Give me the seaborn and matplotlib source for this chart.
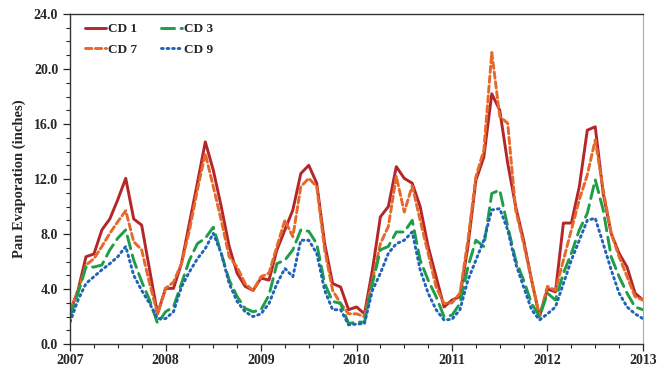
import numpy as np
import pandas as pd
import matplotlib
matplotlib.use("Agg")
import matplotlib.pyplot as plt
from matplotlib.ticker import MultipleLocator, FormatStrFormatter
import seaborn as sns

# monthly pan evaporation (inches), Jan 2007 .. Jan 2013
cd1 = [2.35, 3.9, 6.35, 6.55, 8.3, 9.1, 10.5, 12.05, 9.1, 8.65, 5.4, 2.2,
       4.05, 4.05, 5.85, 8.8, 11.7, 14.7, 12.65, 10.0, 7.1, 5.15, 4.2, 3.9,
       4.8, 4.65, 6.85, 8.3, 9.75, 12.4, 13.0, 11.7, 7.3, 4.4, 4.15, 2.5,
       2.7, 2.2, 5.4, 9.25, 10.0, 12.9, 12.05, 11.7, 10.0, 7.1, 4.9, 2.7,
       3.2, 3.45, 7.1, 11.9, 13.6, 18.2, 17.0, 13.15, 10.0, 7.55, 4.65, 2.0,
       4.0, 3.8, 8.8, 8.8, 11.45, 15.55, 15.8, 10.95, 8.05, 6.6, 5.6, 3.7,
       3.2]
cd7 = [2.5, 3.8, 5.75, 6.2, 7.1, 8.05, 8.9, 9.7, 7.45, 6.85, 4.4, 2.2,
       4.05, 4.5, 5.85, 8.25, 11.2, 13.85, 11.45, 9.0, 6.35, 5.6, 4.4, 3.9,
       4.9, 5.15, 7.1, 9.0, 7.8, 11.45, 12.05, 11.45, 6.85, 3.9, 2.95, 2.2,
       2.2, 2.0, 4.65, 7.3, 8.55, 12.2, 9.6, 11.5, 9.0, 6.6, 4.15, 2.95,
       3.0, 3.7, 7.55, 12.15, 14.1, 21.2, 16.55, 16.05, 9.75, 7.3, 4.65, 2.0,
       4.2, 3.9, 6.1, 8.3, 10.5, 12.3, 14.85, 11.2, 8.05, 6.35, 4.9, 3.45,
       3.2]
cd3 = [2.0, 3.7, 5.6, 5.6, 5.75, 6.85, 7.7, 8.3, 6.1, 4.55, 3.2, 1.5,
       2.35, 2.7, 4.4, 6.1, 7.3, 7.7, 8.5, 6.6, 4.65, 3.45, 2.6, 2.35,
       2.5, 3.55, 5.85, 6.1, 6.85, 8.3, 8.2, 7.3, 4.4, 3.1, 2.95, 1.5,
       1.6, 1.6, 4.4, 6.85, 7.1, 8.15, 8.15, 9.0, 6.1, 4.65, 3.45, 2.0,
       2.1, 2.95, 5.6, 7.55, 7.1, 10.95, 11.2, 8.55, 6.1, 4.65, 2.95, 2.0,
       3.7, 3.2, 5.15, 6.6, 8.3, 9.5, 11.95, 9.75, 6.35, 4.9, 3.7, 2.7,
       2.5]
cd9 = [1.6, 3.2, 4.4, 4.9, 5.4, 5.85, 6.35, 7.1, 5.0, 3.9, 2.95, 1.85,
       1.85, 2.35, 4.15, 5.25, 6.2, 6.95, 8.05, 6.6, 4.4, 3.1, 2.35, 2.0,
       2.2, 2.95, 4.4, 5.5, 4.9, 7.55, 7.55, 6.6, 3.9, 2.5, 2.5, 1.4,
       1.45, 1.5, 3.9, 5.15, 6.6, 7.3, 7.55, 8.15, 5.4, 3.7, 2.5, 1.75,
       1.8, 2.5, 4.65, 6.1, 7.55, 9.75, 9.85, 8.3, 5.85, 4.15, 2.5, 1.75,
       2.2, 2.7, 4.4, 6.1, 7.55, 9.0, 9.15, 7.3, 5.4, 3.7, 2.7, 2.2,
       1.85]

stations = ["CD 1", "CD 7", "CD 3", "CD 9"]
years = 2007 + np.arange(len(cd1)) / 12

df = pd.concat([
    pd.DataFrame({"year": years, "evap": vals, "station": name})
    for name, vals in zip(stations, [cd1, cd7, cd3, cd9])
])

colors = {"CD 1": "#B5262B", "CD 7": "#E4692A", "CD 3": "#1E9E48", "CD 9": "#2063B8"}
dashes = {"CD 1": "", "CD 7": (2.2, 1.2), "CD 3": (4.5, 2.2), "CD 9": (0.6, 1.3)}

sns.set_style("ticks")
plt.rcParams["font.family"] = ["Liberation Serif", "DejaVu Serif"]
plt.rcParams["font.weight"] = "bold"

fig = plt.figure(figsize=(6.67, 3.68), dpi=100)
ax = fig.add_axes([0.105, 0.065, 0.859, 0.897])

sns.lineplot(data=df, x="year", y="evap", hue="station", style="station",
             hue_order=stations, style_order=stations, palette=colors,
             dashes=dashes, linewidth=2.1, ax=ax)
for line in ax.get_lines():
    line.set_dash_capstyle("round")

ax.set_xlim(2007, 2013)
ax.set_ylim(0, 24)
ax.xaxis.set_major_locator(MultipleLocator(1))
ax.xaxis.set_minor_locator(MultipleLocator(0.25))
ax.yaxis.set_major_locator(MultipleLocator(4))
ax.yaxis.set_minor_locator(MultipleLocator(1))
ax.xaxis.set_major_formatter(FormatStrFormatter("%d"))
ax.yaxis.set_major_formatter(FormatStrFormatter("%.1f"))
ax.tick_params(which="major", length=5, width=0.9, labelsize=10, direction="out")
ax.tick_params(axis="x", which="major", pad=2)
ax.tick_params(which="minor", length=3, width=0.8, direction="out")
for lab in ax.get_xticklabels() + ax.get_yticklabels():
    lab.set_fontweight("bold")

ax.set_xlabel("")
ax.set_ylabel("Pan Evaporation (inches)", fontsize=10.5, fontweight="bold", labelpad=6)
for side in ["left", "bottom", "top"]:
    ax.spines[side].set_color("#333333")
    ax.spines[side].set_linewidth(1.0)
ax.spines["right"].set_color("#aaaaaa")

handles, labels = ax.get_legend_handles_labels()
ax.legend(handles, labels, ncol=2, frameon=False, loc="upper left",
          bbox_to_anchor=(0.005, 1.008), handlelength=1.6, handletextpad=0.15,
          columnspacing=1.8, labelspacing=0.6,
          prop={"weight": "bold", "size": 9.5})

fig.savefig("out.png", dpi=100)
